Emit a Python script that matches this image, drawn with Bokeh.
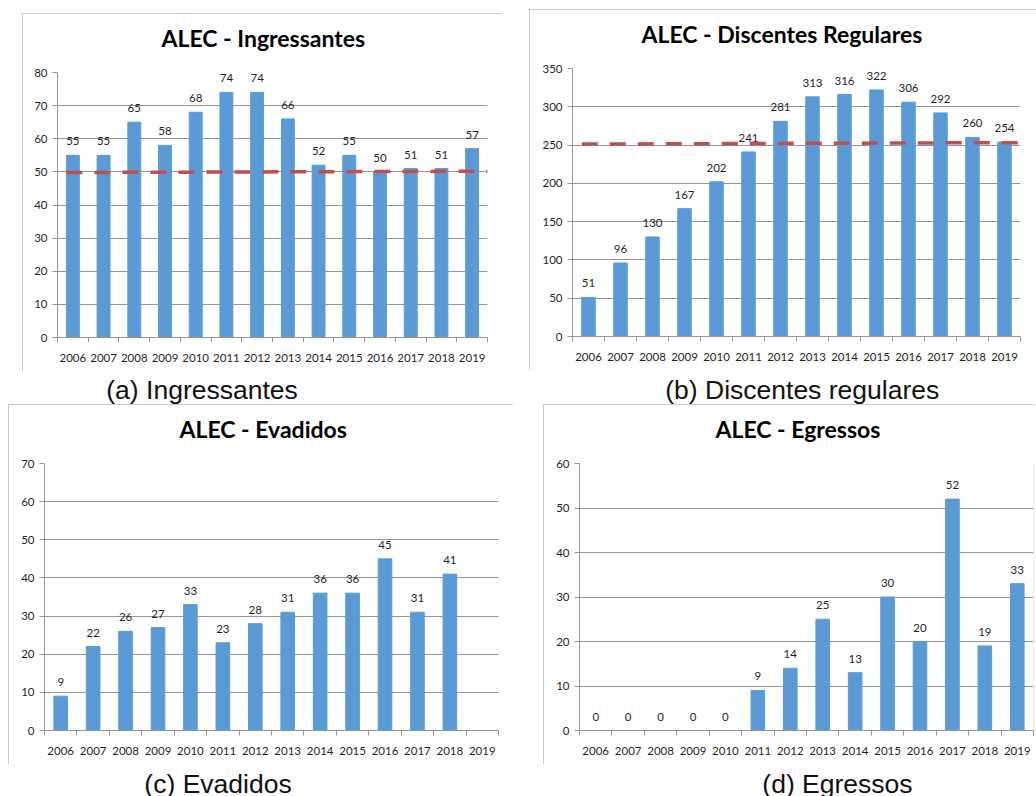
from bokeh.plotting import figure
from bokeh.layouts import column, row
from bokeh.models import Range1d, FixedTicker, BasicTickFormatter, Spacer, Title
from bokeh.core.properties import value
from bokeh.embed import file_html
from bokeh.resources import INLINE

# ---------------- data ----------------
years = [2006, 2007, 2008, 2009, 2010, 2011, 2012, 2013, 2014, 2015, 2016, 2017, 2018, 2019]
ingressantes = [55, 55, 65, 58, 68, 74, 74, 66, 52, 55, 50, 51, 51, 57]
discentes = [51, 96, 130, 167, 202, 241, 281, 313, 316, 322, 306, 292, 260, 254]
evadidos_years = [2006, 2007, 2008, 2009, 2010, 2011, 2012, 2013, 2014, 2015, 2016, 2017, 2018]
evadidos = [9, 22, 26, 27, 33, 23, 28, 31, 36, 36, 45, 31, 41]
egressos = [0, 0, 0, 0, 0, 9, 14, 25, 13, 30, 20, 52, 19, 33]
# dashed reference lines (value at start, value at end)
ref_ingressantes = [49.8, 50.2]
ref_discentes = [251.3, 253.2]

titles = ["ALEC - Ingressantes", "ALEC - Discentes Regulares", "ALEC - Evadidos", "ALEC - Egressos"]
captions = ["(a) Ingressantes", "(b) Discentes regulares", "(c) Evadidos", "(d) Egressos"]
y_ticks_a = [0, 10, 20, 30, 40, 50, 60, 70, 80]
y_ticks_b = [0, 50, 100, 150, 200, 250, 300, 350]
y_ticks_c = [0, 10, 20, 30, 40, 50, 60, 70]
y_ticks_d = [0, 10, 20, 30, 40, 50, 60]

BAR = "#5B9BD5"
DASH = "#C0504D"
GRID = "#959595"
TXT = "#1f1f1f"
FONT = "Lato"
BAR_W = 0.42


def chart(title, xs, vals, yticks, W, H, bl, br, bt, bb, toff, ref=None):
    p = figure(width=W, height=H, output_backend="svg", toolbar_location=None, title=None,
               x_range=Range1d(years[0] - 0.5, years[-1] + 0.5),
               y_range=Range1d(yticks[0], yticks[-1]),
               min_border_left=bl, min_border_right=br, min_border_top=bt, min_border_bottom=bb)
    # small blank gap between the plot area and the title
    p.add_layout(Title(text=" ", text_font_size="1px", standoff=8), "above")
    p.add_layout(Title(text=title, align="left", offset=toff, text_font=FONT,
                       text_font_size="23px", text_font_style="bold", text_color="#000000",
                       vertical_align="top", standoff=16), "above")
    p.outline_line_color = None
    p.background_fill_color = "white"
    p.border_fill_color = "white"
    p.styles = {"outline": "1px solid #b8b8b8", "outline-offset": "-1px"}

    p.xgrid.grid_line_color = None
    p.ygrid.grid_line_color = GRID
    p.ygrid.grid_line_width = 1
    p.ygrid.ticker = FixedTicker(ticks=yticks)

    p.yaxis.ticker = FixedTicker(ticks=yticks)
    p.yaxis.axis_line_color = GRID
    p.yaxis.major_tick_line_color = GRID
    p.yaxis.major_tick_out = 5
    p.yaxis.major_tick_in = 0
    p.yaxis.minor_tick_line_color = None
    p.yaxis.major_label_text_font = FONT
    p.yaxis.major_label_text_font_size = "11.5px"
    p.yaxis.major_label_text_color = TXT
    p.yaxis.major_label_standoff = 5

    bounds = [y - 0.5 for y in years] + [years[-1] + 0.5]
    p.xaxis.ticker = FixedTicker(ticks=years, minor_ticks=bounds)
    p.xaxis.formatter = BasicTickFormatter(use_scientific=False)
    p.xaxis.axis_line_color = GRID
    p.xaxis.major_tick_line_color = None
    p.xaxis.major_tick_out = 0
    p.xaxis.major_tick_in = 0
    p.xaxis.minor_tick_line_color = GRID
    p.xaxis.minor_tick_out = 5
    p.xaxis.minor_tick_in = 0
    p.xaxis.major_label_text_font = FONT
    p.xaxis.major_label_text_font_size = "11.5px"
    p.xaxis.major_label_text_color = TXT
    p.xaxis.major_label_standoff = 11

    p.vbar(x=xs, top=vals, width=BAR_W, fill_color=BAR, line_color=BAR)
    p.text(x=xs, y=vals, text=[str(v) for v in vals], text_align="center",
           text_baseline="middle", y_offset=-14, text_font=value(FONT),
           text_font_size="11.5px", text_color=TXT)
    if ref is not None:
        p.line(x=[years[0] - BAR_W / 2, years[-1] + 0.5], y=ref, line_color=DASH,
               line_width=3.5, line_dash="16 12")
    return p


def caption(text, W, H, cx, mid):
    c = figure(width=W, height=H, output_backend="svg", toolbar_location=None, title=None,
               x_range=Range1d(0, W), y_range=Range1d(0, H),
               x_axis_type=None, y_axis_type=None, min_border=0)
    c.outline_line_color = None
    c.background_fill_color = "white"
    c.border_fill_color = "white"
    c.text(x=[cx], y=[mid], text=[text], text_align="center", text_baseline="middle",
           text_font=value("Liberation Sans"), text_font_size="26.5px", text_color="#111111")
    return c


# top row (page coordinates, no body margin)
WA, WB = 479, 1036 - 529
pa = chart(titles[0], years, ingressantes, y_ticks_a, WA, 358, 35, 14, 59, 34, 104, ref_ingressantes)
ca = caption(captions[0], WA, 33, 161, 404 - 389)
pb = chart(titles[1], years, discentes, y_ticks_b, WB, 361, 43, 16, 59, 34, 69, ref_discentes)
cb = caption(captions[1], WB, 34, 260, 404 - 389)

col_a = column(Spacer(width=WA, height=13), pa, ca, spacing=0)
col_b = column(Spacer(width=WB, height=9), pb, cb, spacing=0)
top = row(Spacer(width=22, height=10), col_a, Spacer(width=529 - 501, height=10), col_b, spacing=0)

# bottom row
WC, WD = 505, 1034 - 543
pc = chart(titles[2], evadidos_years, evadidos, y_ticks_c, WC, 360, 36, 15, 59, 34, 135)
cc = caption(captions[2], WC, 32, 193, 796 - 783)
pd_ = chart(titles[3], years, egressos, y_ticks_d, WD, 360, 36, 1, 59, 34, 136)
cd = caption(captions[3], WD, 32, 279, 796 - 783)

col_c = column(pc, cc, spacing=0)
col_d = column(pd_, cd, spacing=0)
bottom = row(Spacer(width=8, height=10), col_c, Spacer(width=543 - 513, height=10), col_d, spacing=0)

layout = column(top, bottom, spacing=0)

open("out.html", "w").write(file_html(layout, INLINE))
